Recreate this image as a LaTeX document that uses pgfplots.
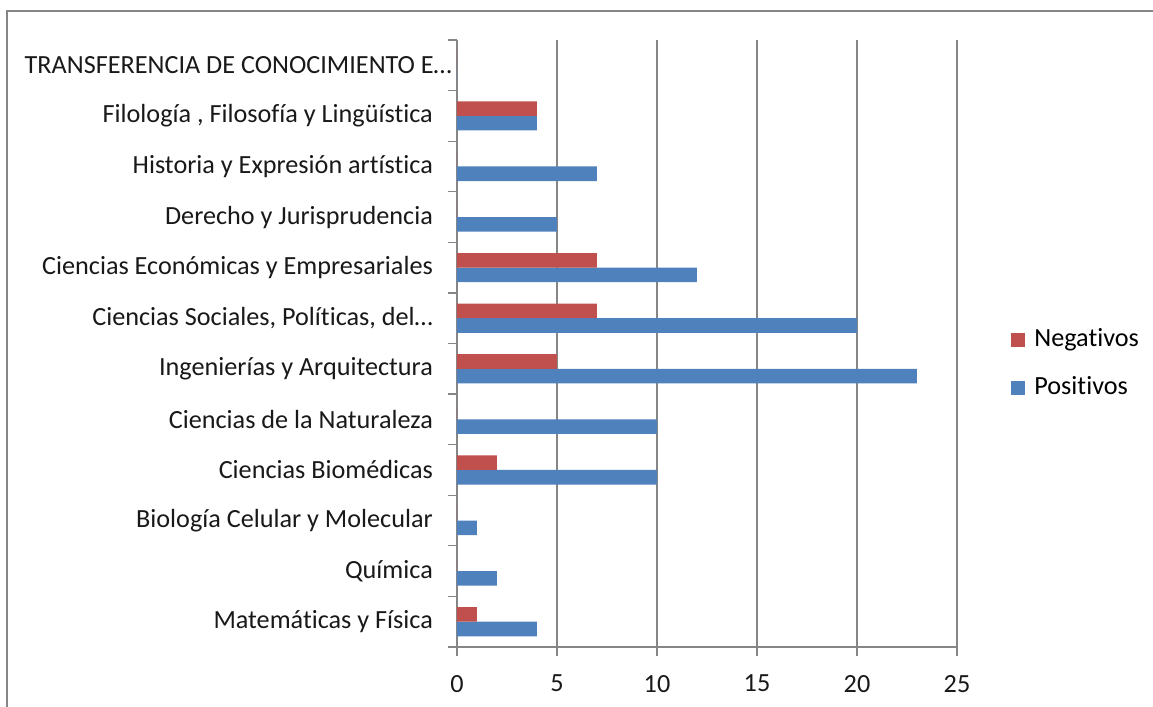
\documentclass[border=0pt]{standalone}
\usepackage{fontspec}
\setmainfont[RawFeature={-liga;-clig;-calt;-dlig}]{Carlito}
\usepackage{pgfplots}
\pgfplotsset{compat=1.18}
\definecolor{neg}{HTML}{C0504D}
\definecolor{pos}{HTML}{4F81BD}
\definecolor{gridc}{HTML}{868686}
\begin{document}
\fontsize{13.1}{15.5}\selectfont
\begin{tikzpicture}
\useasboundingbox (0,0) rectangle (576.5pt,353.5pt);
\fill[white] (0,0) rectangle (576.5pt,353.5pt);
\draw[gridc, line width=1pt] (3.5pt,0) -- (3.5pt,348pt) -- (576.5pt,348pt);
\begin{axis}[
  at={(228.5pt,30pt)}, anchor=south west,
  scale only axis, width=250pt, height=303.5pt,
  xbar, bar width=7.3pt,
  xmin=0, xmax=25, ymin=-0.5, ymax=11.5,
  xtick={0,5,10,15,20,25},
  ytick={-0.5,0.5,...,11.5},
  y tick label as interval,
  yticklabels={Matemáticas y Física, Química, Biología Celular y Molecular, Ciencias Biomédicas, Ciencias de la Naturaleza, Ingenierías y Arquitectura, {Ciencias Sociales, Políticas, del…}, Ciencias Económicas y Empresariales, Derecho y Jurisprudencia, Historia y Expresión artística, {Filología , Filosofía y Lingüística}, {TRANSFERENCIA DE CONOCIMIENTO E…\hspace*{-9.5pt}}},
  axis lines*=left,
  axis line style={gridc, line width=0.6pt},
  tick align=outside, major tick length=4.5pt,
  tick style={gridc, line width=0.6pt},
  xmajorgrids, grid style={gridc, line width=0.6pt},
  /pgf/number format/assume math mode=true,
  ticklabel style={font=\fontsize{13.1}{15.5}\selectfont, text=black!90},
  yticklabel style={xshift=-3pt},
  xticklabel style={yshift=-5pt},
  legend style={at={(1.108,0.467)}, anchor=west, draw=none, fill=none, inner sep=0pt, row sep=9pt, font=\fontsize{13.1}{15.5}\selectfont},
  legend cell align=left,
  reverse legend,
  legend image code/.code={\fill[#1] (0pt,-3.5pt) rectangle (7pt,3.5pt);},
]
\addplot[fill=pos, draw=none, bar shift=-3.65pt] coordinates {(4,0) (2,1) (1,2) (10,3) (10,4) (23,5) (20,6) (12,7) (5,8) (7,9) (4,10) (0,11)};
\addlegendentry{\hspace*{2.5pt}Positivos}
\addplot[fill=neg, draw=none, bar shift=3.65pt] coordinates {(1,0) (0,1) (0,2) (2,3) (0,4) (5,5) (7,6) (7,7) (0,8) (0,9) (4,10) (0,11)};
\addlegendentry{\hspace*{2.5pt}Negativos}
\end{axis}
\end{tikzpicture}
\end{document}
